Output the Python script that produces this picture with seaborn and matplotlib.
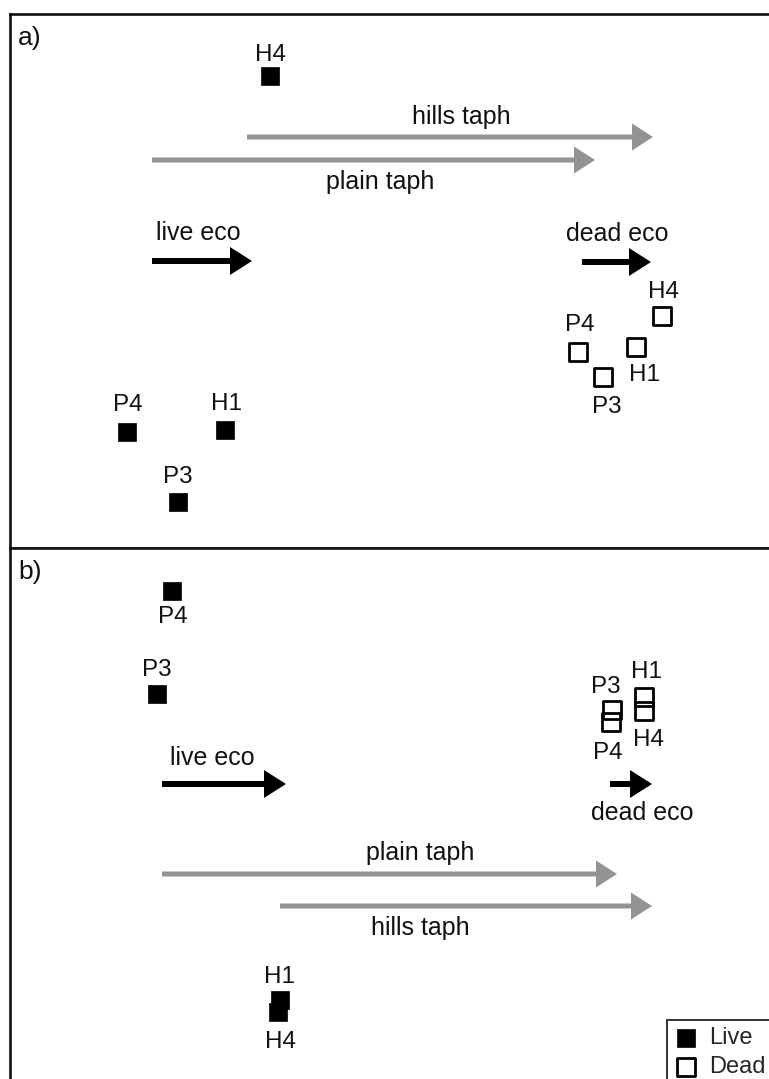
import numpy as np
import pandas as pd
import seaborn as sns
import matplotlib.pyplot as plt

sns.set_theme(style="white")
plt.rcParams['font.family'] = ['Liberation Sans', 'DejaVu Sans']

# ordination scores, panel a
a_live_lab = ["H4", "P4", "H1", "P3"]
a_live_x = [2.60, 1.17, 2.15, 1.68]
a_live_y = [4.72, 1.16, 1.18, 0.46]
a_dead_lab = ["H4", "P4", "H1", "P3"]
a_dead_x = [6.52, 5.68, 6.26, 5.93]
a_dead_y = [2.32, 1.96, 2.01, 1.71]

# ordination scores, panel b
b_live_lab = ["P4", "P3", "H1", "H4"]
b_live_x = [1.62, 1.47, 2.70, 2.68]
b_live_y = [4.91, 3.88, 0.82, 0.70]
b_dead_lab = ["P3", "P4", "H1", "H4"]
b_dead_x = [6.02, 6.01, 6.34, 6.34]
b_dead_y = [3.72, 3.60, 3.85, 3.71]

# fitted vectors (start x, end x, y)
a_vec_lab = ["hills taph", "plain taph", "live eco", "dead eco"]
a_vec_x0 = [2.37, 1.42, 1.42, 5.72]
a_vec_x1 = [6.43, 5.85, 2.42, 6.41]
a_vec_y = [4.11, 3.88, 2.87, 2.86]

b_vec_lab = ["live eco", "dead eco", "plain taph", "hills taph"]
b_vec_x0 = [1.52, 6.00, 1.52, 2.70]
b_vec_x1 = [2.76, 6.42, 6.07, 6.42]
b_vec_y = [2.98, 2.98, 2.08, 1.76]

# label placement (pixel offsets)
a_live_off = [(0, 21), (1, 27), (1, 26), (0, 25)]
a_dead_off = [(1, 24), (2, 27), (8, -28), (4, -30)]
b_live_off = [(1, -26), (0, 24), (-1, 23), (2, -30)]
b_dead_off = [(-6, 23), (-3, -31), (2, 25), (4, -29)]
a_vec_txt = [(4.51, 20), (3.70, -22), (1.88, 28), (6.07, 28)]
b_vec_txt = [(2.02, 26), (6.32, -29), (4.10, 21), (4.10, -22)]

GRAY = "#939393"
taph = {"hills taph", "plain taph"}

fig = plt.figure(figsize=(7.69, 10.79), dpi=100)
ax_a = fig.add_axes([10 / 769, 531 / 1079, 780 / 769, 534 / 1079])
ax_b = fig.add_axes([10 / 769, -3 / 1079, 780 / 769, 534 / 1079])


def draw_panel(ax, letter, live, dead, vecs, live_off, dead_off, vec_txt):
    live_df = pd.DataFrame({"x": live[0], "y": live[1], "site": live[2]})
    dead_df = pd.DataFrame({"x": dead[0], "y": dead[1], "site": dead[2]})
    sns.scatterplot(data=live_df, x="x", y="y", ax=ax, marker="s", s=185,
                    color="black", edgecolor="black", linewidth=0.5,
                    label="Live", zorder=3)
    sns.scatterplot(data=dead_df, x="x", y="y", ax=ax, marker="s", s=170,
                    facecolors="none", edgecolor="black", linewidth=2.0,
                    label="Dead", zorder=3)
    for df, offs in ((live_df, live_off), (dead_df, dead_off)):
        for (_, r), (dx, dy) in zip(df.iterrows(), offs):
            ax.annotate(r["site"], (r["x"], r["y"]), xytext=(dx, dy),
                        textcoords="offset pixels", ha="center", va="center",
                        fontsize=17.5, color="#111111")

    for lab, x0, x1, y, (tx, ty) in zip(*vecs, vec_txt):
        if lab in taph:
            ax.arrow(x0, y, x1 - x0, 0, width=0.05, head_width=0.27,
                     head_length=0.21, length_includes_head=True,
                     color=GRAY, lw=0, zorder=2)
        else:
            ax.arrow(x0, y, x1 - x0, 0, width=0.06, head_width=0.28,
                     head_length=0.22, length_includes_head=True,
                     color="black", lw=0, zorder=2)
        ax.annotate(lab, (tx, y), xytext=(0, ty), textcoords="offset pixels",
                    ha="center", va="center", fontsize=18, color="#111111")

    ax.text(0.08, 5.34 - 0.24, letter, fontsize=19, ha="left", va="center",
            color="#111111")
    ax.set_xlim(0, 7.8)
    ax.set_ylim(0, 5.34)
    ax.set_xticks([])
    ax.set_yticks([])
    ax.set_xlabel("")
    ax.set_ylabel("")
    for sp in ax.spines.values():
        sp.set_visible(True)
        sp.set_color("#111111")
        sp.set_linewidth(1.9)


draw_panel(ax_a, "a)", (a_live_x, a_live_y, a_live_lab),
           (a_dead_x, a_dead_y, a_dead_lab),
           (a_vec_lab, a_vec_x0, a_vec_x1, a_vec_y),
           a_live_off, a_dead_off, a_vec_txt)
ax_a.get_legend().remove()

draw_panel(ax_b, "b)", (b_live_x, b_live_y, b_live_lab),
           (b_dead_x, b_dead_y, b_dead_lab),
           (b_vec_lab, b_vec_x0, b_vec_x1, b_vec_y),
           b_live_off, b_dead_off, b_vec_txt)

leg = ax_b.legend(loc="upper left", bbox_to_anchor=(6.57, 0.62),
                  bbox_transform=ax_b.transData, fontsize=17, frameon=True,
                  fancybox=False, borderpad=0.3, handletextpad=0.5,
                  labelspacing=0.3, handlelength=1.0, borderaxespad=0)
leg.get_frame().set_edgecolor("black")
leg.get_frame().set_linewidth(1.4)

fig.savefig("out.png", dpi=100)
